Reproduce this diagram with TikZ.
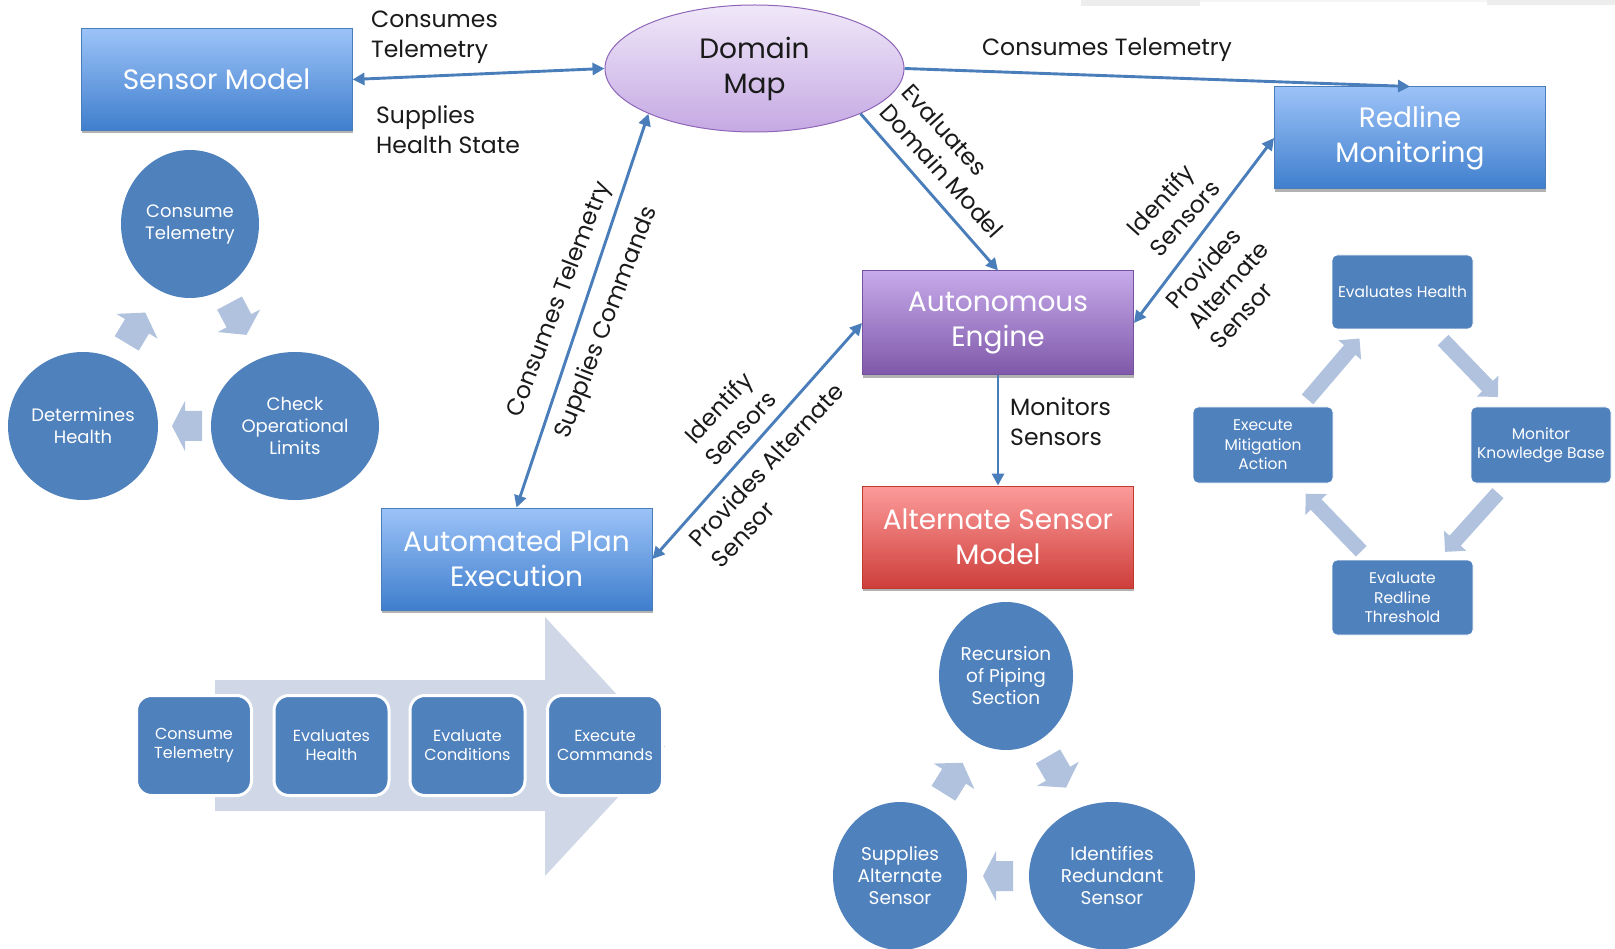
\documentclass[tikz,border=0pt]{standalone}
\usepackage{fontspec}
\setmainfont{Poppins}
\usetikzlibrary{arrows.meta,shapes.geometric,shadows}
\definecolor{linec}{HTML}{4A7EBB}
\definecolor{sblue}{HTML}{4F81BD}
\definecolor{larr}{HTML}{B0C2DE}
\definecolor{chev}{HTML}{D0D8E8}
\definecolor{boxtop}{HTML}{9CC3F8}
\definecolor{boxbot}{HTML}{3F7ECD}
\definecolor{boxdraw}{HTML}{4A7EBB}
\definecolor{dmtop}{HTML}{F0E8F9}
\definecolor{dmbot}{HTML}{C5A9E3}
\definecolor{dmdraw}{HTML}{8E65B9}
\definecolor{engtop}{HTML}{C6AAEA}
\definecolor{engbot}{HTML}{7F58A9}
\definecolor{engdraw}{HTML}{7452A0}
\definecolor{alttop}{HTML}{FC9C9B}
\definecolor{altbot}{HTML}{CE3E3A}
\definecolor{altdraw}{HTML}{C0392B}
\definecolor{lbltext}{HTML}{1A1A1A}
\newcommand\blkarrow[7]{%
  \fill[larr, shift={(#1,#2)}, rotate=#3]
    ({-(#4)/2},{-(#5)}) -- ({(#4)/2-(#7)},{-(#5)}) -- ({(#4)/2-(#7)},{-(#6)})
    -- ({(#4)/2},0) -- ({(#4)/2-(#7)},{#6}) -- ({(#4)/2-(#7)},{#5})
    -- ({-(#4)/2},{#5}) -- cycle;}
\tikzset{
  bigbox/.style={rectangle, minimum width=271pt, minimum height=102pt, inner sep=0pt,
    line width=1pt, text=white, align=center, font=\fontsize{28}{35}\selectfont,
    drop shadow={shadow xshift=0.5pt, shadow yshift=-3pt, opacity=0.3, fill=black}},
  bluebox/.style={bigbox, top color=boxtop, bottom color=boxbot, draw=boxdraw},
  engbox/.style={bigbox, top color=engtop, bottom color=engbot, draw=engdraw},
  altbox/.style={bigbox, top color=alttop, bottom color=altbot, draw=altdraw},
  dmnode/.style={ellipse, minimum width=299pt, minimum height=127pt, inner sep=0pt,
    top color=dmtop, bottom color=dmbot, draw=dmdraw, line width=1pt,
    text=lbltext, align=center, font=\fontsize{28}{35}\selectfont},
  circ/.style={ellipse, inner sep=0pt, fill=sblue, text=white, align=center,
    minimum height=148pt, font=\fontsize{18}{22}\selectfont},
  rlbox/.style={rectangle, rounded corners=5pt, fill=sblue, draw=white, line width=0.8pt,
    text=white, align=center, inner sep=0pt, font=\fontsize{15.5}{19.5}\selectfont},
  procbox/.style={rectangle, rounded corners=15pt, fill=sblue, draw=white, line width=3pt,
    text=white, align=center, inner sep=0pt, minimum width=115pt, minimum height=100pt,
    font=\fontsize{16}{19}\selectfont},
  lbl/.style={inner sep=0pt, text=lbltext, font=\fontsize{23.5}{30}\selectfont},
  conn/.style={draw=linec, line width=2.9pt, >={Triangle[length=12pt,width=12pt]}}
}
\begin{document}
\begin{tikzpicture}[x=1pt,y=-1pt]
\useasboundingbox (0,0) rectangle (1615,949);
\fill[white] (0,0) rectangle (1615,949);
% faint strip at top right
\fill[black!7] (1081,0) rectangle (1200,6);
\fill[black!4] (1200,0) rectangle (1487,2);
\fill[black!7] (1487,0) rectangle (1615,5);

% main nodes
\node[bluebox] (sensor) at (216.5,79.5) {Sensor Model};
\node[dmnode] (dmap) at (754.5,68.5) {Domain\\Map};
\node[bluebox] (redline) at (1410,138) {Redline\\Monitoring};
\node[engbox, minimum height=104pt] (engine) at (998,323) {Autonomous\\Engine};
\node[altbox] (alt) at (998,537) {Alternate Sensor\\Model};
\node[bluebox] (ape) at (516.5,559) {Automated Plan\\Execution};

% connectors
\draw[conn, <->] (sensor.east) -- (dmap.west);
\draw[conn, ->] (dmap.east) -- (redline.north);
\draw[conn, <->] (dmap.south west) -- (ape.north);
\draw[conn, ->] (dmap.south east) -- (engine.north);
\draw[conn, <->] (engine.east) -- (redline.west);
\draw[conn, <->] (ape.east) -- (engine.west);
\draw[conn, ->] (engine.south) -- (alt.north);

% labels
\node[lbl, anchor=west, align=left] (lct1) at (371,37.5) {Consumes\\Telemetry};
\node[lbl, anchor=west, align=left] (lsh) at (376,129.5) {Supplies\\Health State};
\node[lbl] (lct2) at (1107,50) {Consumes Telemetry};
\node[lbl, rotate=69] (lct3) at (560,300) {Consumes Telemetry};
\node[lbl, rotate=69] (lsc) at (607,323) {Supplies Commands};
\node[lbl, rotate=-48, align=left] (ledm) at (953,161) {Evaluates\\Domain Model};
\node[lbl, rotate=48, align=left] (lis1) at (1173,208) {Identify\\Sensors};
\node[lbl, rotate=48, align=left] (lpa1) at (1228,285) {Provides\\Alternate\\Sensor};
\node[lbl, rotate=47, align=center] (lis2) at (729,418) {Identify\\Sensors};
\node[lbl, rotate=47, align=left] (lpa2) at (777,475) {Provides Alternate\\Sensor};
\node[lbl, anchor=west, align=left] (lms) at (1010,421.5) {Monitors\\Sensors};

% left cycle
\node[circ, minimum width=138pt] (ct) at (190,224) {Consume\\Telemetry};
\node[circ, minimum width=150pt] (dh) at (83,426) {Determines\\Health};
\node[circ, minimum width=168pt] (col) at (295,426) {Check\\Operational\\Limits};
\blkarrow{136}{328}{59}{36}{14}{24}{16}
\blkarrow{238}{319}{-62}{36}{14}{24}{16}
\blkarrow{187}{426}{180}{30}{15}{25}{13}

% bottom cycle
\node[circ, minimum width=134pt, font=\fontsize{18.5}{22}\selectfont] (rps) at (1006,676) {Recursion\\of Piping\\Section};
\node[circ, minimum width=134pt, font=\fontsize{18.5}{22}\selectfont] (sas) at (900,876) {Supplies\\Alternate\\Sensor};
\node[circ, minimum width=166pt, font=\fontsize{18.5}{22}\selectfont] (irs) at (1112,876) {Identifies\\Redundant\\Sensor};
\blkarrow{953}{778}{58}{36}{14}{24}{16}
\blkarrow{1057}{772}{-60}{36}{14}{24}{16}
\blkarrow{998}{876}{180}{30}{15}{25}{13}

% redline cycle
\node[rlbox, minimum width=141pt, minimum height=74pt] (eh) at (1402.5,292) {Evaluates Health};
\node[rlbox, minimum width=140pt, minimum height=76pt] (ema) at (1263,445) {Execute\\Mitigation\\Action};
\node[rlbox, minimum width=140pt, minimum height=76pt] (mkb) at (1541,445) {Monitor\\Knowledge Base};
\node[rlbox, minimum width=141pt, minimum height=75pt] (ert) at (1402.5,597.5) {Evaluate\\Redline\\Threshold};
\blkarrow{1470.5}{368.5}{-46}{79}{7.5}{15}{15}
\blkarrow{1471.5}{522.5}{-132}{79}{7.5}{15}{15}
\blkarrow{1333.5}{522.5}{134}{80}{7.5}{15}{15}
\blkarrow{1333.5}{369}{49.5}{80}{7.5}{15}{15}

% process chevron
\fill[chev] (215,680) -- (545,680) -- (545,617) -- (665,746.5) -- (545,876) -- (545,811) -- (215,811) -- cycle;
\node[procbox] (p1) at (194,745.5) {Consume\\Telemetry};
\node[procbox] (p2) at (331.5,745.5) {Evaluates\\Health};
\node[procbox] (p3) at (467.5,745.5) {Evaluate\\Conditions};
\node[procbox] (p4) at (605,745.5) {Execute\\Commands};
\end{tikzpicture}
\end{document}
